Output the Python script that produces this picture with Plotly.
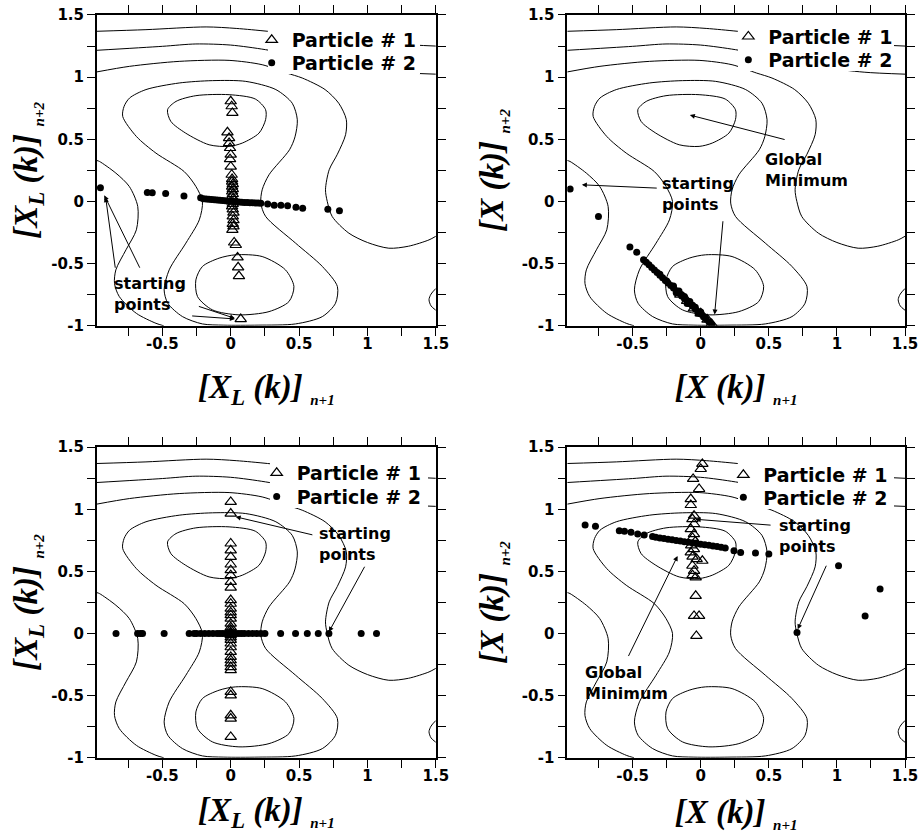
import plotly.graph_objects as go

# ---------------- contour polylines (same surface in all panels)
cA_x = [-0.98, -0.62, -0.18, 0.04, 0.27, 0.6, 1.0, 1.5]
cA_y = [1.369, 1.382, 1.404, 1.392, 1.369, 1.33, 1.28, 1.25]

cB_x = [-0.98, -0.5, -0.255, 0.0, 0.255, 0.55, 0.9, 1.2, 1.5]
cB_y = [1.216, 1.248, 1.267, 1.258, 1.221, 1.16, 1.08, 1.04, 1.024]

cC_x = [-0.98, -0.74, -0.377, -0.012, 0.23, 0.41, 0.523, 0.69, 0.79, 0.845, 0.84, 0.78,
        0.72, 0.693, 0.706, 0.742, 0.864, 1.0, 1.156, 1.3, 1.45, 1.5]
cC_y = [1.042, 1.087, 1.127, 1.135, 1.10, 1.033, 0.993, 0.90, 0.79, 0.66, 0.537, 0.38,
        0.255, 0.094, 0.0, -0.121, -0.255, -0.33, -0.376, -0.36, -0.309, -0.28]

cD_x = [-0.79, -0.78, -0.74, -0.62, -0.377, -0.134, 0.11, 0.33, 0.45, 0.487, 0.47, 0.43,
        0.28, 0.23, 0.22, 0.255, 0.474, 0.67, 0.78, 0.766, 0.67, 0.474, 0.2, -0.05,
        -0.207, -0.353, -0.46, -0.487, -0.45, -0.328, -0.23, -0.207, -0.255, -0.34,
        -0.547, -0.69, -0.79]
cD_y = [0.684, 0.765, 0.832, 0.9, 0.953, 0.972, 0.966, 0.9, 0.79, 0.657, 0.52, 0.416,
        0.215, 0.094, -0.013, -0.12, -0.335, -0.523, -0.684, -0.819, -0.926, -0.985,
        -0.995, -0.995, -0.985, -0.926, -0.819, -0.711, -0.55, -0.335, -0.148, 0.0,
        0.121, 0.24, 0.389, 0.523, 0.684]

cE_x = [-0.462, -0.40, -0.255, -0.012, 0.18, 0.255, 0.255, 0.207, 0.085, -0.012, -0.158,
        -0.33, -0.438, -0.462]
cE_y = [0.738, 0.805, 0.851, 0.859, 0.824, 0.738, 0.658, 0.55, 0.47, 0.443, 0.456,
        0.55, 0.644, 0.738]

cF_x = [-0.255, -0.207, -0.085, 0.036, 0.23, 0.4, 0.462, 0.426, 0.28, 0.06, -0.134,
        -0.243, -0.255]
cF_y = [-0.631, -0.523, -0.456, -0.429, -0.443, -0.55, -0.684, -0.805, -0.886, -0.912,
        -0.872, -0.765, -0.631]

cG_x = [-0.98, -0.96, -0.84, -0.742, -0.68, -0.69, -0.766, -0.84, -0.85, -0.815, -0.69,
        -0.547, -0.49]
cG_y = [0.33, 0.322, 0.228, 0.121, -0.04, -0.228, -0.389, -0.55, -0.66, -0.765, -0.9,
        -0.98, -1.0]

cH_x = [1.5, 1.465, 1.45, 1.465, 1.5]
cH_y = [-0.70, -0.745, -0.79, -0.84, -0.875]

# ---------------- particle positions per panel
p1_tri_x = [0.0, 0.007, 0.012, -0.024, -0.012, -0.012, -0.005, 0.0, -0.005, 0.0, 0.007,
            0.01, 0.01, 0.015, 0.01, 0.015, 0.01, 0.015, 0.01, 0.015, 0.01, 0.015, 0.01,
            0.015, 0.02, 0.015, 0.02, 0.015, 0.02, 0.012, 0.025, 0.037, 0.05, 0.054,
            0.06, 0.073]
p1_tri_y = [0.806, 0.766, 0.712, 0.556, 0.51, 0.47, 0.43, 0.376, 0.34, 0.28, 0.215,
            0.18, 0.16, 0.14, 0.12, 0.10, 0.08, 0.06, 0.04, 0.02, 0.0, -0.02, -0.04,
            -0.064, -0.09, -0.12, -0.15, -0.18, -0.2, -0.228, -0.33, -0.35, -0.45,
            -0.53, -0.6, -0.946]
p1_dot_x = [-0.953, -0.61, -0.574, -0.476, -0.342, -0.22, -0.2, -0.18, -0.16, -0.14,
            -0.12, -0.1, -0.08, -0.06, -0.04, -0.02, 0.0, 0.02, 0.04, 0.06, 0.08, 0.1,
            0.12, 0.14, 0.16, 0.18, 0.2, 0.22, 0.27, 0.318, 0.367, 0.416, 0.477, 0.526,
            0.71, 0.795]
p1_dot_y = [0.11, 0.072, 0.07, 0.064, 0.043, 0.03, 0.022, 0.02, 0.018, 0.016, 0.014,
            0.012, 0.01, 0.008, 0.006, 0.004, 0.002, 0.0, -0.002, -0.004, -0.006,
            -0.008, -0.009, -0.01, -0.011, -0.012, -0.013, -0.014, -0.02, -0.03, -0.03,
            -0.035, -0.046, -0.054, -0.062, -0.075]

p2_tri_x = [-0.15, -0.1, -0.05, 0.0, 0.05, 0.08]
p2_tri_y = [-0.75, -0.8, -0.86, -0.9, -0.95, -0.985]
p2_dot_x = [-0.959, -0.751, -0.52, -0.47, -0.42, -0.40, -0.38, -0.36, -0.34, -0.32,
            -0.30, -0.28, -0.26, -0.24, -0.22, -0.20, -0.18, -0.16, -0.14, -0.12, -0.10,
            -0.08, -0.06, -0.04, -0.02, 0.0, 0.02, 0.04, 0.06, 0.08, -0.2, -0.16, -0.12,
            -0.08, -0.04, 0.0, -0.18, -0.1, -0.02, -0.3, -0.25, -0.14, -0.06, 0.03]
p2_dot_y = [0.10, -0.12, -0.366, -0.409, -0.468, -0.489, -0.510, -0.531, -0.551, -0.572,
            -0.593, -0.614, -0.635, -0.656, -0.676, -0.697, -0.718, -0.739, -0.760,
            -0.781, -0.802, -0.822, -0.843, -0.864, -0.885, -0.906, -0.927, -0.947,
            -0.968, -0.989, -0.68, -0.72, -0.765, -0.805, -0.85, -0.89, -0.735, -0.82,
            -0.90, -0.585, -0.64, -0.75, -0.835, -0.93]

p3_tri_x = [0.0] * 37
p3_tri_y = [1.06, 0.966, 0.725, 0.67, 0.617, 0.556, 0.51, 0.47, 0.416, 0.37, 0.27, 0.24,
            0.2, 0.17, 0.148, 0.12, 0.08, 0.05, 0.03, 0.01, 0.0, -0.013, -0.03, -0.05,
            -0.08, -0.11, -0.148, -0.188, -0.215, -0.24, -0.27, -0.295, -0.47, -0.497,
            -0.658, -0.684, -0.832]
p3_dot_x = [-0.839, -0.681, -0.66, -0.645, -0.487, -0.304, -0.268, -0.25, -0.22, -0.19,
            -0.16, -0.13, -0.1, -0.08, -0.06, -0.04, -0.02, 0.0, 0.02, 0.04, 0.06, 0.08,
            0.1, 0.13, 0.16, 0.19, 0.22, 0.25, 0.365, 0.474, 0.56, 0.64, 0.718, 0.954,
            1.066]
p3_dot_y = [0.0] * 35

p4_tri_x = [0.012, 0.0, -0.056, -0.012, -0.073, -0.073, -0.049, -0.061, -0.049, -0.073,
            -0.05, -0.06, -0.04, -0.07, -0.05, -0.073, -0.06, -0.03, 0.012, -0.061,
            -0.049, -0.06, -0.037, -0.037, -0.049, -0.012, -0.032]
p4_tri_y = [1.366, 1.325, 1.245, 1.164, 1.083, 1.035, 0.949, 0.922, 0.882, 0.841, 0.80,
            0.77, 0.74, 0.71, 0.68, 0.653, 0.62, 0.60, 0.586, 0.546, 0.505, 0.47, 0.452,
            0.304, 0.142, 0.142, -0.019]
p4_dot_x = [-0.849, -0.773, -0.598, -0.56, -0.512, -0.463, -0.415, -0.354, -0.33, -0.3,
            -0.27, -0.24, -0.21, -0.18, -0.15, -0.12, -0.09, -0.06, -0.03, 0.0, 0.03,
            0.06, 0.09, 0.12, 0.15, 0.18, 0.244, 0.293, 0.402, 0.5, 1.012, 1.207, 1.317,
            0.707]
p4_dot_y = [0.874, 0.863, 0.828, 0.823, 0.815, 0.801, 0.793, 0.782, 0.775, 0.77, 0.765,
            0.76, 0.755, 0.75, 0.745, 0.74, 0.735, 0.73, 0.725, 0.72, 0.715, 0.71, 0.705,
            0.70, 0.695, 0.688, 0.667, 0.653, 0.648, 0.64, 0.546, 0.142, 0.358, 0.008]

# ---------------- ticks and labels
x_tickvals = [-0.5, 0, 0.5, 1, 1.5]
x_ticktext = ["-0.5", "0", "0.5", "1", "1.5"]
y_tickvals = [-1, -0.5, 0, 0.5, 1, 1.5]
y_ticktext = ["-1", "-0.5", "0", "0.5", "1", "1.5"]
x_range = [-0.98, 1.5]
y_range = [-1.0, 1.5]

SUB = '<sub><span style="font-size:15px">&nbsp;&nbsp;n+%d</span></sub>'
x_titles = ["[X<sub>L</sub> (k)]" + SUB % 1, "[X (k)]" + SUB % 1,
            "[X<sub>L</sub> (k)]" + SUB % 1, "[X (k)]" + SUB % 1]
y_titles = ["[X<sub>L</sub> (k)]" + SUB % 2, "[X (k)]" + SUB % 2,
            "[X<sub>L</sub> (k)]" + SUB % 2, "[X (k)]" + SUB % 2]
legend_names = ["Particle # 1", "Particle # 2"]

# annotations: (panel, text, x, y)
text_notes = [
    (0, "starting<br>points", -0.87, -0.745),
    (1, "starting<br>points", -0.302, 0.062),
    (1, "Global<br>Minimum", 0.457, 0.254),
    (2, "starting<br>points", 0.633, 0.725),
    (3, "starting<br>points", 0.56, 0.786),
    (3, "Global<br>Minimum", -0.866, -0.395),
]
# arrows: (panel, tail_x, tail_y, tip_x, tip_y)
arrow_notes = [
    (0, -0.66, -0.545, -0.925, 0.05),
    (0, -0.843, -0.545, -0.915, 0.035),
    (0, -0.244, -0.84, 0.03, -0.94),
    (0, -0.293, -0.92, 0.03, -0.945),
    (1, -0.312, 0.107, -0.873, 0.134),
    (1, 0.164, -0.147, 0.102, -0.909),
    (1, 0.627, 0.495, -0.08, 0.695),
    (2, 0.608, 0.792, 0.036, 0.94),
    (2, 0.985, 0.55, 0.718, 0.014),
    (3, 0.524, 0.872, -0.037, 0.92),
    (3, 0.927, 0.558, 0.712, 0.035),
    (3, -0.536, -0.193, -0.17, 0.625),
]

# ---------------- build figure
contours = [(cA_x, cA_y), (cB_x, cB_y), (cC_x, cC_y), (cD_x, cD_y), (cE_x, cE_y),
            (cF_x, cF_y), (cG_x, cG_y), (cH_x, cH_y)]
panels = [(p1_tri_x, p1_tri_y, p1_dot_x, p1_dot_y),
          (p2_tri_x, p2_tri_y, p2_dot_x, p2_dot_y),
          (p3_tri_x, p3_tri_y, p3_dot_x, p3_dot_y),
          (p4_tri_x, p4_tri_y, p4_dot_x, p4_dot_y)]
axis_ids = [("x", "y"), ("x2", "y2"), ("x3", "y3"), ("x4", "y4")]

W, H = 923, 833
xdoms = [[0.1048, 0.4722], [0.6146, 0.9805], [0.1048, 0.4722], [0.6146, 0.9805]]
ydoms = [[0.6089, 0.982], [0.6089, 0.982], [0.0903, 0.4631], [0.0903, 0.4631]]
# legend anchor (left x, row-1 centre y, row-2 centre y) per panel, paper fractions
legend_pos = [(0.2727, 0.952, 0.9244), (0.7891, 0.956, 0.928),
              (0.2781, 0.4322, 0.4037), (0.7837, 0.4298, 0.403)]
# white boxes behind each legend (pixels: x0, x1, y0, y1 from top-left)
legend_boxes = [(268, 420, 28, 74), (738, 894, 24, 71), (270, 428, 461, 508),
                (738, 894, 463, 509)]

fig = go.Figure()
layout = dict(width=W, height=H, margin=dict(l=0, r=0, t=0, b=0),
              paper_bgcolor="white", plot_bgcolor="white", annotations=[], shapes=[])
leg_font = dict(family="DejaVu Sans", size=19, color="black", weight="bold")
for i, (xa, ya) in enumerate(axis_ids):
    for cx, cy in contours:
        fig.add_trace(go.Scatter(x=cx, y=cy, mode="lines", xaxis=xa, yaxis=ya,
                                 line=dict(color="black", width=1, shape="spline",
                                           smoothing=0.8),
                                 showlegend=False, hoverinfo="skip"))
    tx, ty, dx, dy = panels[i]
    l1 = "legend" if i == 0 else "legend%d" % (2 * i + 1)
    l2 = "legend%d" % (2 * i + 2)
    fig.add_trace(go.Scatter(x=tx, y=ty, mode="markers", name=legend_names[0],
                             xaxis=xa, yaxis=ya, legend=l1,
                             marker=dict(symbol="triangle-up-open", size=10,
                                         color="black", line=dict(width=1.2, color="black"))))
    fig.add_trace(go.Scatter(x=dx, y=dy, mode="markers", name=legend_names[1],
                             xaxis=xa, yaxis=ya, legend=l2,
                             marker=dict(symbol="circle", size=7, color="black")))
    lx, ly1, ly2 = legend_pos[i]
    for lid, ly in ((l1, ly1), (l2, ly2)):
        layout[lid] = dict(x=lx, y=ly, xanchor="left", yanchor="middle",
                           bgcolor="rgba(0,0,0,0)", borderwidth=0, tracegroupgap=0,
                           font=leg_font)
    bx0, bx1, by0, by1 = legend_boxes[i]
    layout["shapes"].append(dict(type="rect", xref="paper", yref="paper", layer="above",
                                 x0=bx0 / W, x1=bx1 / W, y0=1 - by1 / H, y1=1 - by0 / H,
                                 fillcolor="white", line=dict(width=0)))

tick_font = dict(family="DejaVu Sans", size=15, color="black", weight="bold")
title_font = dict(family="Liberation Serif", size=33, color="black",
                  weight="bold", style="italic")
y_standoffs = [4, 8, 4, 8]
for i in range(4):
    sfx = "" if i == 0 else str(i + 1)
    common = dict(showline=True, linecolor="black", linewidth=1.5, mirror="ticks",
                  ticks="outside", ticklen=8, tickwidth=1, tickcolor="black",
                  showgrid=False, zeroline=False, tickfont=tick_font, automargin=False,
                  minor=dict(ticks="outside", ticklen=8, tickwidth=1, tickcolor="black",
                             dtick=0.25, tick0=0, showgrid=False))
    layout["xaxis" + sfx] = dict(common, domain=xdoms[i], anchor="y" + sfx, range=x_range,
                                 tickmode="array", tickvals=x_tickvals, ticktext=x_ticktext,
                                 ticklabelstandoff=-5,
                                 title=dict(text=x_titles[i], font=title_font, standoff=23))
    layout["yaxis" + sfx] = dict(common, domain=ydoms[i], anchor="x" + sfx, range=y_range,
                                 tickmode="array", tickvals=y_tickvals, ticktext=y_ticktext,
                                 title=dict(text=y_titles[i], font=title_font,
                                            standoff=y_standoffs[i]))

for (p, txt, x, y) in text_notes:
    sfx = "" if p == 0 else str(p + 1)
    layout["annotations"].append(dict(text=txt, x=x, y=y, xref="x" + sfx, yref="y" + sfx,
                                      xanchor="left", yanchor="middle", align="left",
                                      showarrow=False,
                                      font=dict(family="DejaVu Sans", size=16, color="black",
                                                weight="bold")))
for (p, tx0, ty0, tx1, ty1) in arrow_notes:
    sfx = "" if p == 0 else str(p + 1)
    layout["annotations"].append(dict(text="", x=tx1, y=ty1, ax=tx0, ay=ty0,
                                      xref="x" + sfx, yref="y" + sfx,
                                      axref="x" + sfx, ayref="y" + sfx,
                                      showarrow=True, arrowhead=2, arrowsize=1,
                                      arrowwidth=1, arrowcolor="black", standoff=0))

fig.update_layout(**layout)
# remove the default 8px page margin so the figure sits at the window's top-left corner
fig.write_html("out.html", config={"displayModeBar": False},
               post_script="document.body.style.margin='0px';document.body.style.overflow='hidden';")
